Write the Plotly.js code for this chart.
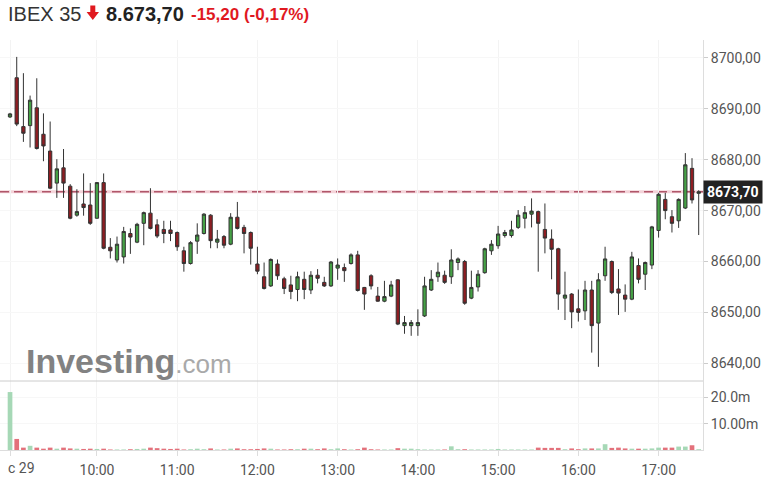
<!DOCTYPE html>
<html>
<head>
<meta charset="utf-8">
<script src="https://cdn.plot.ly/plotly-3.0.1.min.js"></script>
<style>
  html, body { margin: 0; padding: 0; background: #fff; }
  #chart { width: 783px; height: 488px; }
</style>
</head>
<body>
<div id="chart"></div>
<script>
// ---- data ----
const sessionDate = "2021-12-29";
const times = [
  "08:55","09:00","09:05","09:10","09:15","09:20","09:25","09:30","09:35","09:40","09:45","09:50","09:55",
  "10:00","10:05","10:10","10:15","10:20","10:25","10:30","10:35","10:40","10:45","10:50","10:55",
  "11:00","11:05","11:10","11:15","11:20","11:25","11:30","11:35","11:40","11:45","11:50","11:55",
  "12:00","12:05","12:10","12:15","12:20","12:25","12:30","12:35","12:40","12:45","12:50","12:55",
  "13:00","13:05","13:10","13:15","13:20","13:25","13:30","13:35","13:40","13:45","13:50","13:55",
  "14:00","14:05","14:10","14:15","14:20","14:25","14:30","14:35","14:40","14:45","14:50","14:55",
  "15:00","15:05","15:10","15:15","15:20","15:25","15:30","15:35","15:40","15:45","15:50","15:55",
  "16:00","16:05","16:10","16:15","16:20","16:25","16:30","16:35","16:40","16:45","16:50","16:55",
  "17:00","17:05","17:10","17:15","17:20","17:25","17:30"
];
const openP = [
  8688.4,8696.1,8686.5,8686.7,8690.2,8685.0,8681.7,8675.4,8678.4,8674.8,8669.1,8671.3,8671.1,
  8668.5,8675.5,8662.8,8660.3,8660.9,8665.5,8663.8,8667.5,8669.5,8667.2,8666.3,8666.2,
  8665.7,8662.1,8659.6,8664.0,8665.5,8669.1,8663.8,8664.9,8663.4,8668.7,8666.7,8665.7,
  8659.5,8657.0,8655.2,8659.5,8656.6,8655.4,8654.5,8656.5,8654.4,8657.3,8655.9,8655.2,
  8658.7,8658.8,8659.6,8661.3,8654.9,8657.2,8653.2,8652.2,8653.2,8656.4,8647.4,8647.4,
  8647.4,8649.3,8654.4,8657.0,8657.3,8657.0,8659.8,8660.0,8652.8,8655.0,8657.8,8662.1,
  8663.1,8665.1,8665.1,8666.7,8668.5,8669.3,8669.8,8666.3,8664.4,8662.5,8652.8,8653.6,
  8650.7,8650.3,8654.4,8647.9,8657.2,8660.0,8654.6,8653.4,8652.6,8659.2,8657.5,8659.3,
  8666.1,8672.2,8668.8,8668.0,8670.5,8678.3,8673.4
];
const highP = [
  8689.2,8700.2,8697.0,8692.6,8696.0,8689.1,8687.5,8680.1,8682.1,8675.2,8674.2,8677.3,8675.4,
  8675.6,8677.3,8664.6,8664.9,8666.8,8666.5,8667.6,8669.8,8674.4,8668.3,8668.0,8668.0,
  8665.9,8662.9,8664.0,8667.5,8669.5,8669.3,8666.2,8665.2,8669.5,8671.7,8667.2,8665.9,
  8662.9,8659.8,8660.6,8660.4,8657.0,8657.2,8658.0,8658.0,8658.1,8658.5,8657.0,8660.1,
  8660.6,8659.6,8661.6,8662.1,8655.0,8657.5,8655.0,8656.2,8656.2,8656.5,8649.3,8648.5,
  8650.6,8657.0,8658.3,8659.8,8658.2,8662.4,8660.8,8660.3,8658.2,8658.3,8662.7,8664.2,
  8667.0,8666.2,8668.0,8670.1,8670.9,8672.4,8670.0,8671.4,8666.3,8662.7,8658.0,8653.8,
  8654.5,8656.2,8656.2,8657.7,8662.9,8660.2,8658.5,8655.5,8661.9,8660.6,8660.0,8667.0,
  8673.5,8673.5,8670.1,8672.4,8681.3,8680.3,8674.0
];
const lowP = [
  8688.2,8686.6,8683.5,8682.4,8682.0,8679.7,8674.2,8672.5,8672.5,8668.3,8668.8,8669.0,8667.2,
  8668.4,8662.4,8660.6,8659.8,8659.6,8661.5,8663.6,8663.2,8666.3,8664.6,8663.6,8664.0,
  8662.1,8658.0,8659.4,8661.5,8665.3,8662.6,8662.6,8662.6,8663.2,8666.3,8661.6,8659.4,
  8657.5,8654.5,8655.0,8656.4,8653.6,8652.6,8652.2,8652.6,8653.6,8655.7,8655.0,8655.0,
  8656.4,8656.0,8659.4,8654.1,8650.5,8654.5,8652.1,8652.0,8653.0,8647.5,8645.8,8645.4,
  8645.4,8649.1,8654.2,8656.0,8655.6,8655.6,8658.3,8651.5,8652.6,8654.1,8657.6,8661.3,
  8662.5,8664.7,8664.7,8666.4,8666.5,8666.7,8658.0,8661.6,8656.5,8650.5,8648.5,8646.9,
  8648.2,8648.5,8642.1,8639.3,8656.2,8653.6,8649.5,8650.1,8652.4,8655.7,8654.4,8658.5,
  8664.7,8668.3,8665.7,8666.6,8670.3,8671.4,8665.2
];
const closeP = [
  8689.0,8687.0,8685.2,8691.7,8682.2,8682.7,8674.4,8678.2,8675.4,8668.5,8669.8,8670.6,8667.5,
  8675.5,8662.6,8662.1,8663.4,8665.9,8664.8,8667.3,8669.6,8666.5,8665.0,8665.5,8665.5,
  8662.9,8659.6,8663.7,8665.2,8669.3,8664.1,8664.4,8663.2,8668.7,8666.5,8665.5,8662.6,
  8658.1,8654.7,8660.4,8657.2,8654.7,8654.1,8657.0,8654.5,8657.3,8656.7,8655.2,8659.9,
  8659.3,8658.2,8661.3,8654.3,8653.6,8655.2,8652.2,8653.1,8655.4,8647.7,8648.0,8648.0,
  8648.0,8655.2,8656.5,8657.9,8655.9,8660.3,8660.5,8651.8,8654.9,8657.5,8662.5,8663.4,
  8665.4,8665.7,8666.2,8669.1,8669.6,8669.9,8667.5,8664.6,8662.4,8653.6,8653.4,8650.1,
  8650.0,8654.4,8647.4,8656.4,8660.5,8653.9,8653.8,8652.6,8660.9,8656.5,8659.8,8666.8,
  8673.2,8670.0,8667.5,8672.2,8679.0,8672.1,8673.7
];
// volume in millions
const volumeM = [
  22.0,4.2,0.9,1.6,0.9,0.5,0.9,0.5,0.9,0.6,0.5,0.4,0.5,
  0.4,0.5,0.2,0.2,0.2,0.3,0.4,0.5,0.9,0.7,0.5,0.4,
  0.5,0.2,0.3,0.5,0.3,0.6,0.2,0.2,0.5,0.6,0.3,0.3,
  0.4,0.6,0.5,0.2,0.2,0.3,0.3,0.5,0.5,0.3,0.6,0.3,
  0.6,0.3,0.2,0.3,0.9,0.3,0.2,0.2,0.2,0.7,0.5,0.5,
  0.3,0.2,0.2,0.2,0.2,1.4,0.3,0.3,0.2,0.2,0.2,0.2,
  0.4,0.2,0.2,0.2,0.2,0.2,0.9,0.8,0.8,0.8,0.3,0.6,
  0.3,0.6,0.6,0.6,2.2,0.8,0.9,0.6,0.5,0.5,0.5,0.6,
  0.9,0.9,0.9,1.3,1.3,1.8,0.3
];
const dayLabel = "c 29";   // the visible (clipped) day label of the reference
const xTickTimes = ["08:55","10:00","11:00","12:00","13:00","14:00","15:00","16:00","17:00"];
const xTickText  = ["","10:00","11:00","12:00","13:00","14:00","15:00","16:00","17:00"];
const priceTicks = [8640,8650,8660,8670,8680,8690,8700];
const volTicks = [10,20];
const volTickText = ["10.00m","20.0m"];
const instrument = "IBEX 35";
const lastText = "8.673,70";
const changeText = "-15,20 (-0,17%)";

// ---- build ----
const xs = times.map(t => sessionDate + " " + t);
const lastClose = closeP[closeP.length - 1];
const volColors = closeP.map((c, i) => c >= openP[i] ? "#a6d8b6" : "#e3717b");

const candle = {
  type: "candlestick",
  x: xs, open: openP, high: highP, low: lowP, close: closeP,
  xaxis: "x", yaxis: "y",
  increasing: { fillcolor: "#45a145", line: { color: "#333333", width: 1 } },
  decreasing: { fillcolor: "#8e1d22", line: { color: "#333333", width: 1 } },
  whiskerwidth: 0,
  hoverinfo: "skip"
};
const vol = {
  type: "bar",
  x: xs, y: volumeM,
  xaxis: "x", yaxis: "y2",
  marker: { color: volColors, line: { width: 0 } },
  hoverinfo: "skip"
};

const W = 783, H = 488, ML = 0, MR = 80, MT = 40, MB = 38;
const PW = W - ML - MR, PH = H - MT - MB;
const px = x => (x - ML) / PW;            // pixel -> paper x (decorations only)
const py = y => 1 + (MT - y) / PH;        // pixel -> paper y (decorations only)
const split = py(381);

const arrowPts = [[90.3,5.5],[95.3,5.5],[95.3,12],[99,12],[92.8,20],[86.6,12],[90.3,12]];
const arrowPath = "M " + arrowPts.map(p => px(p[0]) + " " + py(p[1])).join(" L ") + " Z";

const axisFont = { family: "Roboto, sans-serif", size: 14, color: "#555" };

const layout = {
  width: W, height: H,
  margin: { l: ML, r: MR, t: MT, b: MB, pad: 0 },
  paper_bgcolor: "#ffffff", plot_bgcolor: "#ffffff",
  separators: ",.",
  showlegend: false,
  bargap: 0.3,
  font: axisFont,
  xaxis: {
    type: "date",
    range: [sessionDate + " 08:47:30", sessionDate + " 17:33:13"],
    anchor: "y2",
    tickmode: "array",
    tickvals: xTickTimes.map(t => sessionDate + " " + t),
    ticktext: xTickText,
    tickangle: 0,
    tickfont: axisFont,
    ticklabelstandoff: 2,
    showgrid: true, gridcolor: "#f3f3f3", gridwidth: 1,
    showline: true, linecolor: "#dddddd", linewidth: 1,
    ticks: "outside", ticklen: 5, tickcolor: "#dddddd",
    zeroline: false,
    rangeslider: { visible: false },
    fixedrange: true
  },
  yaxis: {
    domain: [split, 1],
    anchor: "x",
    side: "right",
    range: [8636.52, 8703.52],
    tickmode: "array",
    tickvals: priceTicks,
    tickformat: ".2f",
    tickfont: axisFont,
    showgrid: true, gridcolor: "#f7f7f7",
    showline: true, linecolor: "#dddddd",
    ticks: "outside", ticklen: 4, tickcolor: "#cccccc",
    zeroline: false, fixedrange: true
  },
  yaxis2: {
    domain: [0, split],
    anchor: "x",
    side: "right",
    range: [0, 26.2],
    tickmode: "array",
    tickvals: volTicks,
    ticktext: volTickText,
    tickfont: axisFont,
    showgrid: true, gridcolor: "#f7f7f7",
    showline: true, linecolor: "#dddddd",
    ticks: "outside", ticklen: 4, tickcolor: "#cccccc",
    zeroline: false, fixedrange: true
  },
  shapes: [
    { type: "line", xref: "paper", x0: 0, x1: 1, yref: "paper", y0: split, y1: split,
      line: { color: "#cccccc", width: 1 }, layer: "above" },
    { type: "line", xref: "paper", x0: 0, x1: 1, yref: "y", y0: lastClose, y1: lastClose,
      line: { color: "#f4d3d9", width: 3 }, layer: "below" },
    { type: "line", xref: "paper", x0: 0, x1: 1, yref: "y", y0: lastClose, y1: lastClose,
      line: { color: "#b0566a", width: 1.4, dash: "9px,5px" }, layer: "below" },
    { type: "path", xref: "paper", yref: "paper", path: arrowPath,
      fillcolor: "#e0191f", line: { width: 0 } }
  ],
  annotations: [
    { xref: "paper", yref: "paper", x: px(6), y: py(14), xanchor: "left", yanchor: "middle",
      text: instrument, showarrow: false,
      font: { family: "Liberation Sans, Arial, sans-serif", size: 20, color: "#333333" } },
    { xref: "paper", yref: "paper", x: px(104), y: py(14), xanchor: "left", yanchor: "middle",
      text: "<b>" + lastText + "</b>", showarrow: false,
      font: { family: "Liberation Sans, Arial, sans-serif", size: 20, color: "#222222" } },
    { xref: "paper", yref: "paper", x: px(189), y: py(14.5), xanchor: "left", yanchor: "middle",
      text: "<b>" + changeText + "</b>", showarrow: false,
      font: { family: "Liberation Sans, Arial, sans-serif", size: 17, color: "#e0191f" } },
    { xref: "paper", yref: "y", x: 1, y: lastClose, xanchor: "left", yanchor: "middle",
      text: "<b>" + lastClose.toFixed(2).replace(".", ",") + "</b>", showarrow: false,
      bgcolor: "#222222", borderpad: 3,
      font: { family: "Roboto, sans-serif", size: 14, color: "#ffffff" } },
    { xref: "paper", yref: "paper", x: px(6), y: py(468),
      xanchor: "left", yanchor: "middle", text: dayLabel, showarrow: false,
      font: axisFont },
    { xref: "paper", yref: "paper", x: px(24), y: py(361), xanchor: "left", yanchor: "middle",
      text: "<b>Investing</b><span style=\"font-size:26px;font-weight:normal;color:#a9a9a9\">.com</span>",
      showarrow: false,
      font: { family: "Liberation Sans, Arial, sans-serif", size: 34, color: "#828282" } }
  ]
};

Plotly.newPlot("chart", [candle, vol], layout, { staticPlot: true, displayModeBar: false });
</script>
</body>
</html>
